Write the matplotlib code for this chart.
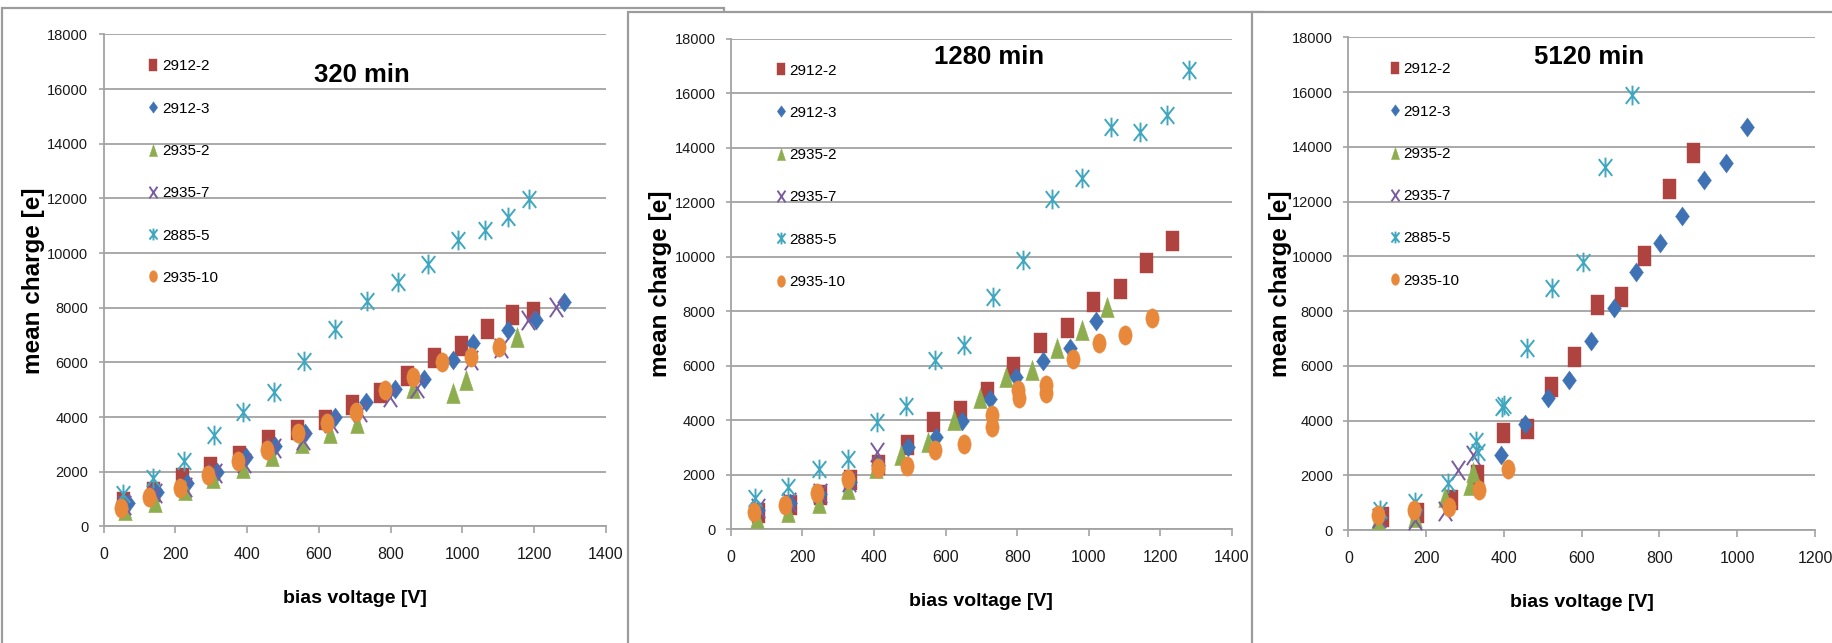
import matplotlib
matplotlib.use("Agg")
import matplotlib.pyplot as plt
from matplotlib.path import Path
from matplotlib.transforms import Affine2D
from matplotlib.patches import Rectangle

# ---- data (bias voltage [V], mean charge [e]) ----
series_names = ["2912-2", "2912-3", "2935-2", "2935-7", "2885-5", "2935-10"]

# 320 min
p1_2912_2_x = [55, 137, 218, 297, 378, 459, 538, 617, 693, 770, 845, 922, 996, 1068, 1138, 1198]
p1_2912_2_y = [908, 1273, 1762, 2189, 2579, 3164, 3530, 3896, 4444, 4872, 5505, 6152, 6615, 7224, 7737, 7858]
p1_2912_3_x = [69, 148, 233, 315, 397, 478, 561, 645, 731, 812, 894, 975, 1031, 1128, 1206, 1284]
p1_2912_3_y = [849, 1273, 1580, 2005, 2531, 2945, 3409, 4016, 4565, 5018, 5384, 6091, 6701, 7188, 7554, 8224]
p1_2935_2_x = [60, 143, 227, 306, 390, 469, 552, 631, 706, 862, 973, 1010, 1153]
p1_2935_2_y = [604, 908, 1335, 1762, 2128, 2579, 3043, 3409, 3775, 5054, 4896, 5359, 6921]
p1_2935_7_x = [58, 142, 227, 311, 391, 475, 556, 635, 715, 798, 874, 1023, 1108, 1183, 1262]
p1_2935_7_y = [786, 1214, 1455, 1945, 2311, 2860, 3164, 3775, 4200, 4748, 5055, 6091, 6518, 7554, 8040]
p1_2885_5_x = [55, 139, 224, 308, 390, 474, 560, 646, 735, 820, 904, 987, 1062, 1128, 1187]
p1_2885_5_y = [1185, 1785, 2385, 3360, 4185, 4935, 6060, 7215, 8235, 8940, 9585, 10485, 10860, 11310, 11985]
p1_2935_10_x = [48, 127, 212, 292, 376, 456, 541, 623, 703, 785, 864, 944, 1023, 1101]
p1_2935_10_y = [666, 1090, 1397, 1884, 2407, 2798, 3409, 3775, 4200, 4993, 5480, 6028, 6211, 6577]

# 1280 min
p2_2912_2_x = [77, 166, 249, 333, 412, 492, 566, 640, 715, 789, 864, 938, 1011, 1087, 1159, 1232]
p2_2912_2_y = [609, 891, 1258, 1808, 2358, 3091, 3946, 4350, 5046, 5963, 6820, 7393, 8347, 8800, 9754, 10583]
p2_2912_3_x = [77, 166, 249, 333, 412, 494, 573, 645, 723, 797, 871, 948, 1019]
p2_2912_3_y = [700, 950, 1300, 1750, 2350, 3029, 3396, 3983, 4767, 5596, 6183, 6637, 7638]
p2_2935_2_x = [73, 161, 247, 327, 405, 476, 550, 624, 696, 769, 841, 912, 980, 1050]
p2_2935_2_y = [403, 645, 953, 1467, 2259, 2725, 3212, 4008, 4804, 5596, 5841, 6637, 7308, 8140]
p2_2935_7_x = [75, 163, 248, 330, 408]
p2_2935_7_y = [800, 1000, 1350, 1750, 2846]
p2_2885_5_x = [68, 160, 246, 328, 409, 490, 569, 652, 733, 815, 898, 980, 1063, 1143, 1217, 1279]
p2_2885_5_y = [1143, 1549, 2226, 2572, 3925, 4527, 6211, 6758, 8530, 9875, 12101, 12871, 14754, 14574, 15205, 16860]
p2_2935_10_x = [66, 152, 240, 327, 410, 492, 571, 652, 729, 729, 803, 805, 881, 881, 955, 1029, 1101, 1176]
p2_2935_10_y = [645, 891, 1320, 1844, 2237, 2321, 2908, 3120, 4191, 3763, 5108, 4804, 5292, 4987, 6240, 6821, 7125, 7737]

# 5120 min
p3_2912_2_x = [86, 176, 264, 330, 397, 459, 520, 580, 640, 700, 761, 825, 887]
p3_2912_2_y = [486, 632, 1096, 2009, 3554, 3678, 5235, 6331, 8219, 8500, 10009, 12446, 13783]
p3_2912_3_x = [81, 171, 393, 454, 513, 567, 624, 684, 741, 801, 857, 915, 971, 1026]
p3_2912_3_y = [486, 610, 2740, 3861, 4811, 5480, 6915, 8098, 9436, 10496, 11470, 12786, 13418, 14733]
p3_2935_2_x = [77, 171, 249, 313, 321]
p3_2935_2_y = [391, 486, 1216, 1644, 2130]
p3_2935_7_x = [80, 171, 249, 283, 321]
p3_2935_7_y = [450, 380, 700, 2192, 2740]
p3_2885_5_x = [81, 171, 256, 328, 333, 394, 400, 459, 523, 603, 660, 729]
p3_2885_5_y = [731, 1034, 1706, 3251, 2860, 4482, 4555, 6637, 8829, 9801, 13272, 15891]
p3_2935_10_x = [77, 170, 259, 336, 410]
p3_2935_10_y = [548, 731, 829, 1461, 2217]

panel_titles = ["320 min", "1280 min", "5120 min"]
x_max = [1400, 1400, 1200]
y_ticks = [0, 2000, 4000, 6000, 8000, 10000, 12000, 14000, 16000, 18000]

panels = [
    [(p1_2912_2_x, p1_2912_2_y), (p1_2912_3_x, p1_2912_3_y), (p1_2935_2_x, p1_2935_2_y),
     (p1_2935_7_x, p1_2935_7_y), (p1_2885_5_x, p1_2885_5_y), (p1_2935_10_x, p1_2935_10_y)],
    [(p2_2912_2_x, p2_2912_2_y), (p2_2912_3_x, p2_2912_3_y), (p2_2935_2_x, p2_2935_2_y),
     (p2_2935_7_x, p2_2935_7_y), (p2_2885_5_x, p2_2885_5_y), (p2_2935_10_x, p2_2935_10_y)],
    [(p3_2912_2_x, p3_2912_2_y), (p3_2912_3_x, p3_2912_3_y), (p3_2935_2_x, p3_2935_2_y),
     (p3_2935_7_x, p3_2935_7_y), (p3_2885_5_x, p3_2885_5_y), (p3_2935_10_x, p3_2935_10_y)],
]

# ---- marker shapes (the original is stretched vertically, so make them tall) ----
W = 0.68
M, L = Path.MOVETO, Path.LINETO
sq_path = Path([(-0.65, -1), (0.65, -1), (0.65, 1), (-0.65, 1), (-0.65, -1)], closed=True)
dia_path = Path([(0, 1), (0.73, 0), (0, -1), (-0.73, 0), (0, 1)], closed=True)
tri_path = Path([(0, 1), (0.67, -1), (-0.67, -1), (0, 1)], closed=True)
x_path = Path([(-W, -1), (W, 1), (-W, 1), (W, -1)], [M, L, M, L])
ast_path = Path([(0, -1), (0, 1), (-W, -0.85), (W, 0.85), (-W, 0.85), (W, -0.85)], [M, L, M, L, M, L])
ell_path = Path.unit_circle().transformed(Affine2D().scale(0.69, 1.0))

colors = ["#AE4340", "#3F72B5", "#8DAD4E", "#7A5C9E", "#40A7C0", "#E8883A"]
markers = [sq_path, dia_path, tri_path, x_path, ast_path, ell_path]
msizes = [14.4, 13.7, 14.6, 14.0, 14.2, 13.9]
filled = [True, True, True, False, False, True]

grid_c = "#A3A3A3"
fam = ["Liberation Sans", "DejaVu Sans"]

fig = plt.figure(figsize=(18.32, 6.43), dpi=100)

# panel frames (screenshot composite look)
def frame(x0, y0, x1, z):
    r = Rectangle((x0 / 1832, 1 - 700 / 643), (x1 - x0) / 1832, (700 - y0) / 643,
                  transform=fig.transFigure, facecolor="white", edgecolor="#9C9C9C",
                  linewidth=1.6, zorder=z)
    fig.add_artist(r)

frame(2, 8, 724, -10)
frame(628, 12, 1262, -9)
frame(1252, 11.5, 1900, -8)

positions = [
    [0.05655, 0.1812, 0.2741, 0.7653],
    [0.3989, 0.1768, 0.2736, 0.7633],
    [0.7360, 0.1757, 0.2547, 0.7663],
]
# distance of the y label centre from the axis line, in pixels
ylab_off = [70, 70, 68]

for k in range(3):
    ax = fig.add_axes(positions[k])
    ax.set_facecolor("none")
    ax_w_px = positions[k][2] * 1832
    for i, (xs, ys) in enumerate(panels[k]):
        if filled[i]:
            ax.plot(xs, ys, linestyle="none", marker=markers[i], markersize=msizes[i],
                    markerfacecolor=colors[i], markeredgecolor=colors[i], markeredgewidth=0.3,
                    label=series_names[i], zorder=3 + i)
        else:
            ax.plot(xs, ys, linestyle="none", marker=markers[i], markersize=msizes[i],
                    markerfacecolor="none", markeredgecolor=colors[i], markeredgewidth=1.4,
                    label=series_names[i], zorder=3 + i)

    ax.set_xlim(0, x_max[k])
    ax.set_ylim(0, 18000)
    ax.set_xticks(range(0, x_max[k] + 1, 200))
    ax.set_yticks(y_ticks)
    ax.yaxis.grid(True, color=grid_c, linewidth=1.3)
    ax.set_axisbelow(True)
    for s in ["top", "right"]:
        ax.spines[s].set_visible(False)
    for s in ["left", "bottom"]:
        ax.spines[s].set_color(grid_c)
        ax.spines[s].set_linewidth(1.3)
    ax.tick_params(axis="x", length=5, width=1.2, color=grid_c, pad=10,
                   labelsize=11.5, labelcolor="#1a1a1a")
    ax.tick_params(axis="y", length=3.5, width=1.2, color=grid_c, pad=7.5,
                   labelsize=10.5, labelcolor="#1a1a1a")
    for lab in ax.get_xticklabels() + ax.get_yticklabels():
        lab.set_family(fam)

    ax.set_xlabel("bias voltage [V]", fontsize=14, fontweight="bold", family=fam, va="center")
    ax.xaxis.set_label_coords(0.5, -0.147)
    ax.set_ylabel("mean charge [e]", fontsize=17.5, fontweight="bold", family=fam, va="center")
    ax.yaxis.set_label_coords(-ylab_off[k] / ax_w_px, 0.50)

    title_y = [0.918, 0.9615, 0.959][k]
    ax.text(0.515, title_y, panel_titles[k], transform=ax.transAxes, ha="center", va="center",
            fontsize=18.5, fontweight="bold", family=fam)

    ax.legend(loc="upper left", bbox_to_anchor=(0.087, 0.949), frameon=False, markerscale=0.6,
              handlelength=0.8, handletextpad=0.15, labelspacing=1.85, borderpad=0,
              borderaxespad=0, prop={"family": fam, "size": 11})

fig.savefig("out.png", dpi=100)
